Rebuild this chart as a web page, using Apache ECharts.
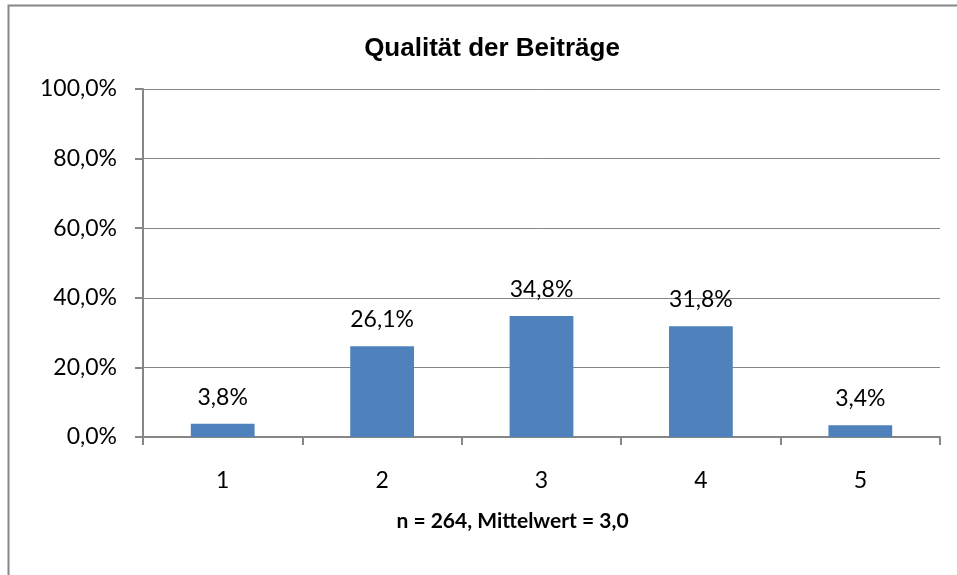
<!DOCTYPE html>
<html>
<head>
<meta charset="utf-8">
<script src="https://cdn.jsdelivr.net/npm/echarts@6/dist/echarts.min.js"></script>
<style>
  html, body { margin: 0; padding: 0; background: #fff; }
  #chart { width: 957px; height: 575px; }
</style>
</head>
<body>
<div id="chart"></div>
<script>
// Werte
var categories = ["1", "2", "3", "4", "5"];
var values = [3.8, 26.1, 34.8, 31.8, 3.4];
var yTicks = [0, 20, 40, 60, 80, 100];

var axisGray = "#868686";
var barBlue = "#4F81BD";
var labelFont = "Lato, 'Open Sans', sans-serif";

function pct(v) {
  return v.toFixed(1).replace(".", ",") + "%";
}

var chart = echarts.init(document.getElementById("chart"));
chart.setOption({
  animation: false,
  title: {
    text: "Qualität der Beiträge",
    left: 487,
    top: 31,
    textAlign: "center",
    textStyle: { fontFamily: "'Liberation Sans', Arial", fontWeight: "bold", fontSize: 26, color: "#000" }
  },
  graphic: [{
    type: "rect",
    shape: { x: 8.5, y: 5.5, width: 960, height: 600 },
    style: { fill: null, stroke: axisGray, lineWidth: 2 },
    silent: true
  }],
  grid: { left: 143, right: 17, top: 89, bottom: 138 },
  xAxis: {
    type: "category",
    data: categories,
    name: "n = 264, Mittelwert = 3,0",
    nameLocation: "middle",
    nameGap: 74,
    nameTextStyle: {
      fontFamily: labelFont, fontWeight: "bold", fontSize: 21, color: "#000",
      padding: [0, 58, 0, 0]
    },
    axisLine: { lineStyle: { color: axisGray, width: 2 } },
    axisTick: { show: true, alignWithLabel: false, length: 8, lineStyle: { color: axisGray, width: 2 } },
    axisLabel: { fontFamily: labelFont, fontSize: 23, color: "#000", margin: 32 }
  },
  yAxis: {
    type: "value",
    min: yTicks[0],
    max: yTicks[yTicks.length - 1],
    interval: 20,
    axisLine: { show: true, lineStyle: { color: axisGray, width: 2 } },
    axisTick: { show: true, length: 8, lineStyle: { color: axisGray, width: 2 } },
    axisLabel: {
      fontFamily: labelFont, fontSize: 23, color: "#000", margin: 26,
      formatter: function (v) { return pct(v); }
    },
    splitLine: { lineStyle: { color: axisGray, width: 1 } }
  },
  series: [{
    type: "bar",
    data: values,
    barWidth: "40%",
    itemStyle: { color: barBlue },
    label: {
      show: true,
      position: "top",
      distance: 15,
      fontFamily: labelFont,
      fontSize: 23,
      color: "#000",
      formatter: function (p) { return pct(p.value); }
    }
  }]
});
</script>
</body>
</html>
